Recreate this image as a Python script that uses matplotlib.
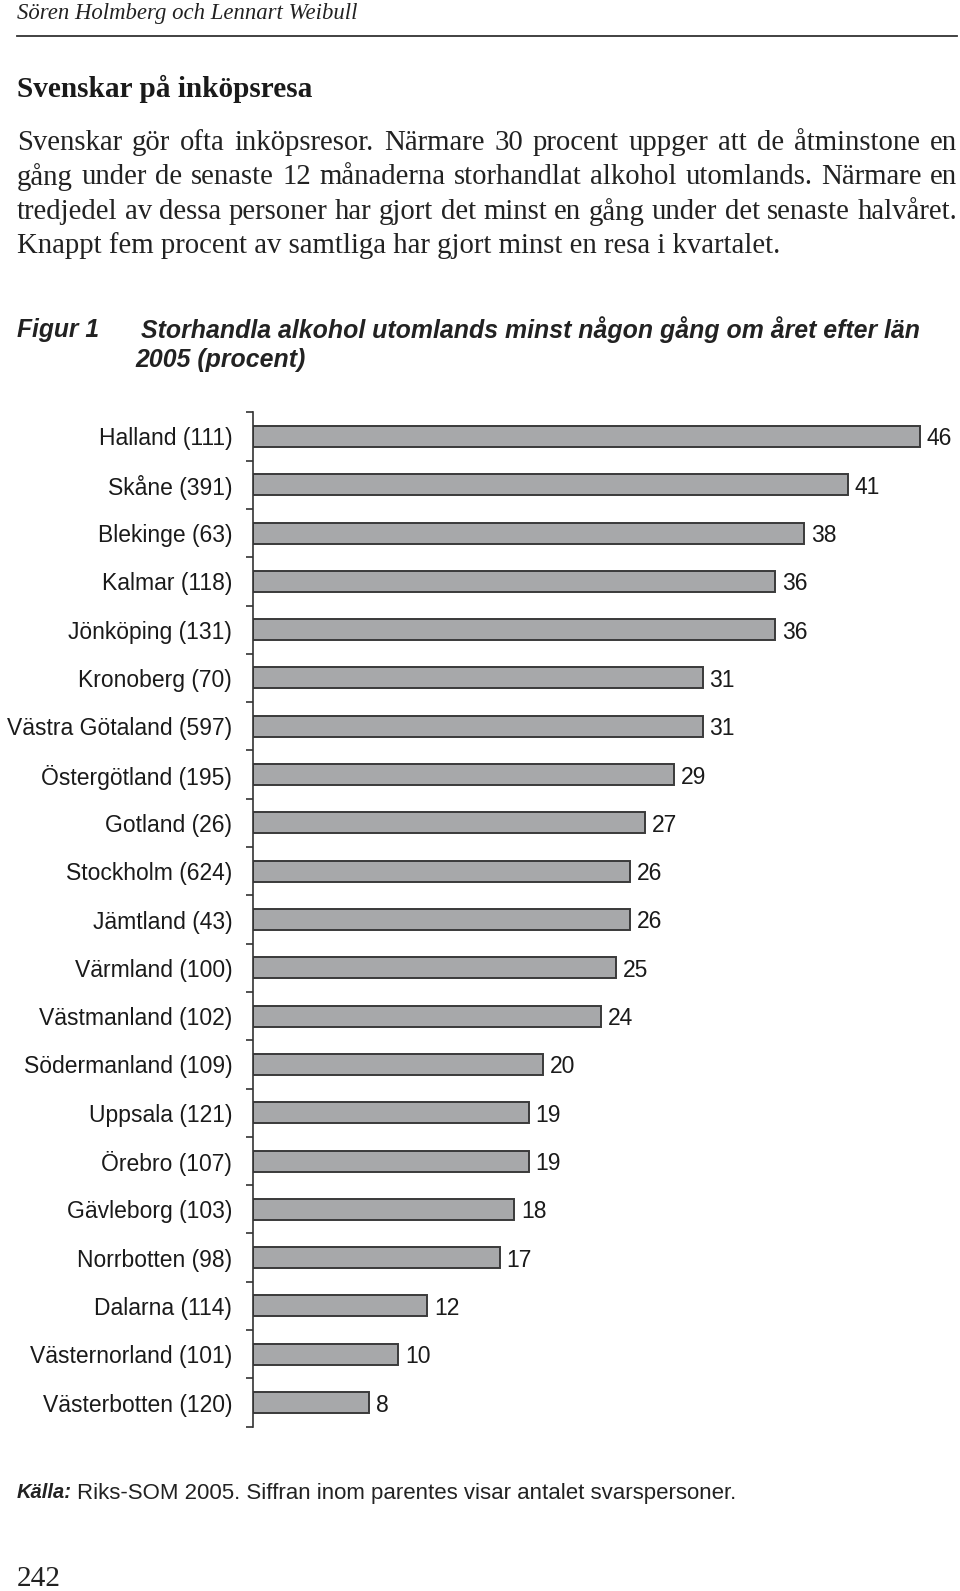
import matplotlib
matplotlib.use("Agg")
import matplotlib.pyplot as plt

# ---------------- data ----------------
counties = ["Halland", "Skåne", "Blekinge", "Kalmar", "Jönköping", "Kronoberg",
            "Västra Götaland", "Östergötland", "Gotland", "Stockholm", "Jämtland",
            "Värmland", "Västmanland", "Södermanland", "Uppsala", "Örebro",
            "Gävleborg", "Norrbotten", "Dalarna", "Västernorland", "Västerbotten"]
respondents = [111, 391, 63, 118, 131, 70, 597, 195, 26, 624, 43,
               100, 102, 109, 121, 107, 103, 98, 114, 101, 120]
percent = [46, 41, 38, 36, 36, 31, 31, 29, 27, 26, 26,
           25, 24, 20, 19, 19, 18, 17, 12, 10, 8]

header = "Sören Holmberg och Lennart Weibull"
section_title = "Svenskar på inköpsresa"
body_lines = [
    "Svenskar gör ofta inköpsresor. Närmare 30 procent uppger att de åtminstone en",
    "gång under de senaste 12 månaderna storhandlat alkohol utomlands. Närmare en",
    "tredjedel av dessa personer har gjort det minst en gång under det senaste halvåret.",
    "Knappt fem procent av samtliga har gjort minst en resa i kvartalet.",
]
fig_label = "Figur 1"
fig_title = ["Storhandla alkohol utomlands minst någon gång om året efter län",
             "2005 (procent)"]
source_bold = "Källa:"
source_text = "Riks-SOM 2005. Siffran inom parentes visar antalet svarspersoner."
page_no = "242"

labels = [f"{c} ({n})" for c, n in zip(counties, respondents)]

# ---------------- figure ----------------
W, H = 960, 1591
fig = plt.figure(figsize=(W / 100, H / 100), dpi=100)
fig.patch.set_facecolor("white")
renderer = fig.canvas.get_renderer()

SERIF = ["Liberation Serif", "DejaVu Serif"]
SANS = ["Liberation Sans", "DejaVu Sans"]


def fx(x):
    return x / W


def fy(y):
    return 1 - y / H


def fit_text(x, y, s, width, size=14, **kw):
    t = fig.text(fx(x), fy(y), s, fontsize=size, va="center", ha="left", **kw)
    for _ in range(3):
        w = t.get_window_extent(renderer).width
        size = size * width / w
        t.set_fontsize(size)
    return t, size


# header
fit_text(17, 13, header, 339, family=SERIF, style="italic", color="#222222")
fig.add_artist(plt.Line2D([fx(17), fx(957)], [fy(35.5), fy(35.5)],
                          transform=fig.transFigure, color="#333333", lw=1.3))

# section title
fit_text(17, 89, section_title, 296, family=SERIF, weight="bold", color="#1a1a1a")

# body text (justified)
line_y = [143, 177.5, 212, 245.5]
_, body_size = fit_text(17, line_y[3], body_lines[3], 763, family=SERIF, color="#222222")
for ly, line in zip(line_y[:3], body_lines[:3]):
    words = line.split(" ")
    arts = [fig.text(0, fy(ly), w_, fontsize=body_size, family=SERIF,
                     va="center", ha="left", color="#222222") for w_ in words]
    widths = [a.get_window_extent(renderer).width for a in arts]
    gap = (940 - sum(widths)) / (len(words) - 1)
    xpos = 17
    for a, wd in zip(arts, widths):
        a.set_x(fx(xpos))
        xpos += wd + gap

# figure caption
fit_text(17, 330, fig_label, 82, family=SANS, weight="bold", style="italic", color="#222222")
_, cap_size = fit_text(141, 330, fig_title[0], 777, family=SANS, weight="bold",
                       style="italic", color="#222222")
fig.text(fx(135), fy(360), fig_title[1], fontsize=cap_size, family=SANS, weight="bold",
         style="italic", va="center", ha="left", color="#222222")

# source
tb, src_size = fit_text(17, 1493, source_bold, 58, size=14, family=SANS,
                        weight="bold", style="italic", color="#222222")
tb.set_fontsize(14.5)
bw = tb.get_window_extent(renderer).width
fit_text(17 + bw + 5, 1493, source_text, 735 - 22 - bw, size=14.5,
         family=SANS, color="#222222")

# page number
fit_text(17, 1579, page_no, 44, size=18, family=SERIF, color="#222222")

# ---------------- chart ----------------
x0, x1 = 253, 253 + 14.5 * 48
ytop, ybot = 412.3, 1426.7
ax = fig.add_axes([fx(x0), fy(ybot), (x1 - x0) / W, (ybot - ytop) / H])
n = len(percent)
ypos = list(range(n))
ax.barh(ypos, percent, height=0.435, color="#a7a8aa", edgecolor="#3a3a3a", linewidth=1.4)
ax.set_xlim(0, 48)
ax.set_ylim(n - 0.5, -0.5)
for sp in ["top", "right", "bottom"]:
    ax.spines[sp].set_visible(False)
ax.spines["left"].set_color("#333333")
ax.spines["left"].set_linewidth(1.2)
ax.set_xticks([])
ax.set_yticks(ypos)
ax.set_yticklabels(labels, fontsize=16.5, family=SANS, color="#1a1a1a")
ax.tick_params(axis="y", which="major", length=0, pad=15)
ax.set_yticks([i - 0.5 for i in range(n + 1)], minor=True)
ax.tick_params(axis="y", which="minor", length=5.2, width=1.2, color="#333333",
               direction="out")
for i, v in enumerate(percent):
    ax.annotate(str(v), xy=(v, i), xytext=(5, -1.8), textcoords="offset points",
                va="center", ha="left", fontsize=16.5, family=SANS, color="#1a1a1a",
                annotation_clip=False)

fig.savefig("out.png", dpi=100, facecolor="white")
